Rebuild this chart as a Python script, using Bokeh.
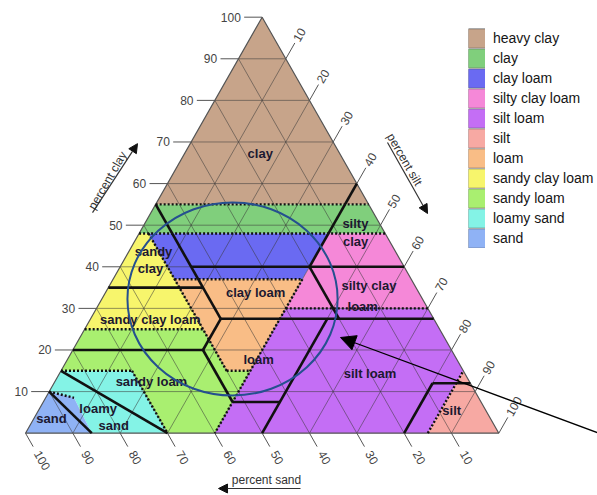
import numpy as np
from bokeh.plotting import figure
from bokeh.models import Legend, LegendItem, Arrow, NormalHead
from bokeh.core.properties import value
from bokeh.embed import file_html
from bokeh.resources import INLINE

# ---------------- data (ternary: silt %, clay %) ----------------
TICKS = [10, 20, 30, 40, 50, 60, 70, 80, 90, 100]
GRID = [10, 20, 30, 40, 50, 60, 70, 80, 90]

CLASS_NAMES = ["heavy clay", "clay", "clay loam", "silty clay loam", "silt loam",
               "silt", "loam", "sandy clay loam", "sandy loam", "loamy sand", "sand"]
CLASS_COLORS = ["#c7a48a", "#80cf7c", "#6a6af2", "#f588d8", "#c46ef5",
                "#f7a9a3", "#f9bd86", "#f7f56c", "#a9ef70", "#84f3e6", "#8fb2f5"]

HEAVY_CLAY_SILT = [0, 45, 0]
HEAVY_CLAY_CLAY = [55, 55, 100]
CLAY_SILT = [0, 52, 45, 0]
CLAY_CLAY = [48, 48, 55, 55]
CLAY_LOAM_SILT = [2, 40, 40, 13]
CLAY_LOAM_CLAY = [48, 48, 37, 37]
SILTY_CLAY_LOAM_SILT = [40, 52, 70, 40]
SILTY_CLAY_LOAM_CLAY = [48, 48, 30, 30]
SILT_LOAM_SILT = [40, 70, 85, 85, 40]
SILT_LOAM_CLAY = [30, 30, 15, 0, 0]
SILT_SILT = [85, 100, 85]
SILT_CLAY = [0, 0, 15]
LOAM_SILT = [13, 40, 40, 35]
LOAM_CLAY = [37, 37, 15, 15]
SANDY_CLAY_LOAM_SILT = [0, 25, 2, 0]
SANDY_CLAY_LOAM_CLAY = [25, 25, 48, 48]
SANDY_LOAM_SILT = [0, 15, 30, 40, 40, 35, 25, 0]
SANDY_LOAM_CLAY = [15, 15, 0, 0, 15, 15, 25, 25]
LOAMY_SAND_SILT = [0, 6, 14, 30, 15, 0]
LOAMY_SAND_CLAY = [10, 8.5, 0, 0, 15, 15]
SAND_SILT = [0, 0, 6, 14]
SAND_CLAY = [0, 10, 8.5, 0]

CLASS_SILT = [HEAVY_CLAY_SILT, CLAY_SILT, CLAY_LOAM_SILT, SILTY_CLAY_LOAM_SILT, SILT_LOAM_SILT,
              SILT_SILT, LOAM_SILT, SANDY_CLAY_LOAM_SILT, SANDY_LOAM_SILT, LOAMY_SAND_SILT, SAND_SILT]
CLASS_CLAY = [HEAVY_CLAY_CLAY, CLAY_CLAY, CLAY_LOAM_CLAY, SILTY_CLAY_LOAM_CLAY, SILT_LOAM_CLAY,
              SILT_CLAY, LOAM_CLAY, SANDY_CLAY_LOAM_CLAY, SANDY_LOAM_CLAY, LOAMY_SAND_CLAY, SAND_CLAY]

# dotted class boundaries: (silt0, clay0, silt1, clay1)
DOTTED_S0 = [0, 0, 2, 13, 40, 40, 0, 35, 0, 15, 0, 85]
DOTTED_C0 = [55, 48, 48, 37, 37, 30, 25, 15, 15, 15, 10, 0]
DOTTED_S1 = [45, 52, 35, 40, 40, 70, 25, 40, 15, 30, 6, 85]
DOTTED_C1 = [55, 48, 15, 37, 0, 30, 25, 15, 15, 0, 8.5, 15]

# solid boundary lines (second classification)
SOLID_S0 = [0, 27.5, 27.5, 40, 50, 27.5, 0, 0, 15, 40, 40, 80, 80, 0, 0]
SOLID_C0 = [55, 27.5, 20, 7.5, 0, 27.5, 20, 35, 40, 40, 40, 0, 12, 10, 15]
SOLID_S1 = [27.5, 27.5, 40, 50, 50, 72.5, 27.5, 20, 60, 40, 52.5, 80, 88, 14, 30]
SOLID_C1 = [27.5, 20, 7.5, 7.5, 27.5, 27.5, 20, 35, 40, 60, 27.5, 12, 12, 0, 0]

LABEL_TEXT = ["clay", "silty", "clay", "sandy", "clay", "clay  loam", "silty  clay", "loam",
              "sandy clay loam", "loam", "sandy loam", "loamy", "sand", "sand", "silt  loam", "silt"]
LABEL_SILT = [16.0, 44.5, 46.7, 5.2, 6.6, 32.1, 55.2, 56.0, 12.7, 40.4, 20.4, 12.4, 17.7, 3.75, 66.0, 87.3]
LABEL_CLAY = [67.2, 50.4, 46.1, 43.7, 39.6, 33.8, 35.5, 30.5, 27.3, 17.7, 12.4, 5.9, 1.85, 3.5, 14.35, 5.5]

# annotation geometry in plot units (x = silt + clay/2, y = clay)
TITLE_TEXT = ["percent clay", "percent silt", "percent sand"]
TITLE_X = [17.33, 80.08, 50.92]
TITLE_Y = [60.75, 65.79, -11.3]
TITLE_ANGLE = [np.pi / 3, -np.pi / 3, 0.0]
TITLE_ARROW_X0 = [14.16, 76.48, 58.1]
TITLE_ARROW_Y0 = [53.0, 69.88, -13.3]
TITLE_ARROW_X1 = [23.66, 84.94, 40.78]
TITLE_ARROW_Y1 = [69.6, 52.81, -13.3]
CIRCLE_X, CIRCLE_Y, CIRCLE_W, CIRCLE_H = [43.74], [32.26], [44.4], [46.4]
POINTER_FROM = (123.5, -1.0)
POINTER_TO = (66.55, 23.0)


def tx(s, c):
    return [si + ci / 2.0 for si, ci in zip(s, c)]


FONT_NAME = "Liberation Sans"
FONT = value(FONT_NAME)

p = figure(width=597, height=495, output_backend="svg", toolbar_location=None,
           x_range=(-5.282, 120.85), y_range=(-14.98, 104.01),
           x_axis_type=None, y_axis_type=None, min_border=0,
           outline_line_color=None, background_fill_color="white")
p.grid.visible = False

# class regions
for col, s, c in zip(CLASS_COLORS, CLASS_SILT, CLASS_CLAY):
    p.patch(tx(s, c), list(c), fill_color=col, line_color=None)

# grid lines
gx, gy = [], []
for k in GRID:
    gx.append(tx([0, 100 - k], [k, k])); gy.append([k, k])
    gx.append(tx([k, k], [0, 100 - k])); gy.append([0, 100 - k])
    gx.append(tx([100 - k, 0], [0, 100 - k])); gy.append([0, 100 - k])
p.multi_line(gx, gy, line_color="#3a3a3a", line_width=0.9, line_alpha=0.6)

# triangle outline
p.patch(tx([0, 100, 0], [0, 0, 100]), [0, 0, 100], fill_color=None, line_color="#555555", line_width=1.2)

# ticks
tick_len = 3.8
tick_xs, tick_ys = [], []
for k in TICKS:
    x0 = k / 2.0
    tick_xs.append([x0, x0 - tick_len]); tick_ys.append([k, k])
    sx, sy = k + (100 - k) / 2.0, 100 - k
    tick_xs.append([sx, sx + tick_len / 2.0]); tick_ys.append([sy, sy + tick_len])
    bx = 100 - k
    tick_xs.append([bx, bx + tick_len / 2.0 * 0.85]); tick_ys.append([0, -tick_len * 0.85])
p.multi_line(tick_xs, tick_ys, line_color="#555555", line_width=1)

p.text(x=[k / 2.0 - tick_len - 0.7 for k in TICKS], y=TICKS, text=[str(k) for k in TICKS],
       text_align="right", text_baseline="middle", text_font=FONT, text_font_size="12px",
       text_color="#444444")
p.text(x=[k + (100 - k) / 2.0 + tick_len / 2.0 + 0.2 for k in TICKS],
       y=[100 - k + tick_len + 0.6 for k in TICKS], text=[str(k) for k in TICKS],
       angle=np.pi / 3, text_align="left", text_baseline="middle", text_font=FONT,
       text_font_size="12px", text_color="#444444")
p.text(x=[100 - k + tick_len / 2.0 * 0.85 + 0.9 for k in TICKS],
       y=[-tick_len * 0.85 - 1.2 for k in TICKS], text=[str(k) for k in TICKS],
       angle=-np.pi / 3, text_align="left", text_baseline="middle", text_font=FONT,
       text_font_size="12px", text_color="#444444")

# boundaries
p.multi_line([tx([a, b], [c, d]) for a, b, c, d in zip(DOTTED_S0, DOTTED_S1, DOTTED_C0, DOTTED_C1)],
             [[c, d] for c, d in zip(DOTTED_C0, DOTTED_C1)],
             line_color="#111111", line_width=2.4, line_dash="2 2")
p.multi_line([tx([a, b], [c, d]) for a, b, c, d in zip(SOLID_S0, SOLID_S1, SOLID_C0, SOLID_C1)],
             [[c, d] for c, d in zip(SOLID_C0, SOLID_C1)],
             line_color="#111111", line_width=2.6)

# class labels
p.text(x=tx(LABEL_SILT, LABEL_CLAY), y=LABEL_CLAY, text=LABEL_TEXT, text_align="center",
       text_baseline="middle", text_font=FONT, text_font_size="13px", text_font_style="bold",
       text_color="#1c1830")

# axis titles
p.text(x=TITLE_X, y=TITLE_Y, text=TITLE_TEXT, angle=TITLE_ANGLE, text_align="center",
       text_baseline="middle", text_font=FONT, text_font_size="12px", text_color="#333333")
for x0, y0, x1, y1 in zip(TITLE_ARROW_X0, TITLE_ARROW_Y0, TITLE_ARROW_X1, TITLE_ARROW_Y1):
    p.add_layout(Arrow(end=NormalHead(size=9, fill_color="#111111", line_color="#111111"),
                       x_start=x0, y_start=y0, x_end=x1, y_end=y1,
                       line_color="#333333", line_width=1.2))

# highlight ellipse and pointer
p.ellipse(x=CIRCLE_X, y=CIRCLE_Y, width=CIRCLE_W, height=CIRCLE_H, fill_color=None,
          line_color="#25508f", line_width=2)
p.add_layout(Arrow(end=NormalHead(size=15, fill_color="black", line_color="black"),
                   x_start=POINTER_FROM[0], y_start=POINTER_FROM[1],
                   x_end=POINTER_TO[0], y_end=POINTER_TO[1], line_color="black", line_width=1.3))

# legend: colour swatches drawn as thick legend strokes with a dark edge
# (legend-only renderers hold a single NaN point, so nothing shows in the plot area)
items = []
for name, col in zip(CLASS_NAMES, CLASS_COLORS):
    edge = p.line(x=[np.nan], y=[np.nan], line_color="#555555", line_width=20)
    fill = p.line(x=[np.nan], y=[np.nan], line_color=col, line_width=18.6)
    items.append(LegendItem(label=name, renderers=[edge, fill]))

legend = Legend(items=items, location=(468, 247), orientation="vertical",
                glyph_width=17, glyph_height=20, label_height=20, spacing=0,
                padding=0, margin=0, label_standoff=8, border_line_color=None,
                background_fill_alpha=0, label_text_font=FONT_NAME, label_text_font_size="14px",
                label_text_color="#151515")
p.add_layout(legend, "center")

open("out.html", "w").write(file_html(p, INLINE))
